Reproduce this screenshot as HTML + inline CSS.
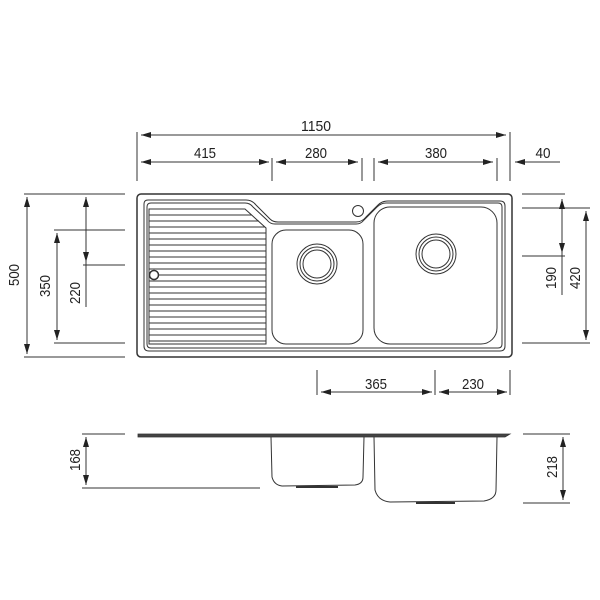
<!DOCTYPE html>
<html><head><meta charset="utf-8"><style>
html,body{margin:0;padding:0;background:#fff;width:600px;height:600px;overflow:hidden}
text{font-family:"Liberation Sans Narrow","Liberation Sans",sans-serif;font-size:15px;fill:#222}
</style></head><body>
<svg width="600" height="600" viewBox="0 0 600 600" xmlns="http://www.w3.org/2000/svg">
<defs>
<marker id="a" viewBox="0 0 10 6" refX="10" refY="3" markerWidth="10" markerHeight="6" orient="auto-start-reverse" markerUnits="userSpaceOnUse"><path d="M0,0L10,3L0,6z" fill="#222"/></marker>
</defs>
<g stroke="#333" stroke-width="1" fill="none">
<line x1="137" y1="132" x2="137" y2="181"/><line x1="272" y1="158" x2="272" y2="181"/>
<line x1="362" y1="158" x2="362" y2="181"/><line x1="374" y1="158" x2="374" y2="181"/>
<line x1="497" y1="158" x2="497" y2="181"/><line x1="510" y1="132" x2="510" y2="181"/>
<line x1="141" y1="135" x2="506" y2="135" marker-start="url(#a)" marker-end="url(#a)"/>
<line x1="141" y1="162" x2="269" y2="162" marker-start="url(#a)" marker-end="url(#a)"/>
<line x1="276" y1="162" x2="358" y2="162" marker-start="url(#a)" marker-end="url(#a)"/>
<line x1="378" y1="162" x2="493" y2="162" marker-start="url(#a)" marker-end="url(#a)"/>
<line x1="560" y1="162" x2="515" y2="162" marker-end="url(#a)"/>
<line x1="24" y1="194" x2="125" y2="194"/><line x1="54" y1="230" x2="125" y2="230"/>
<line x1="83" y1="265" x2="125" y2="265"/><line x1="54" y1="343" x2="125" y2="343"/>
<line x1="24" y1="357" x2="125" y2="357"/>
<line x1="27" y1="197" x2="27" y2="354" marker-start="url(#a)" marker-end="url(#a)"/>
<line x1="57" y1="233" x2="57" y2="340" marker-start="url(#a)" marker-end="url(#a)"/>
<line x1="86" y1="197" x2="86" y2="262" marker-start="url(#a)" marker-end="url(#a)"/>
<line x1="86" y1="262" x2="86" y2="307"/>
<line x1="522" y1="194" x2="565" y2="194"/><line x1="522" y1="208" x2="590" y2="208"/>
<line x1="522" y1="256" x2="565" y2="256"/><line x1="522" y1="343" x2="590" y2="343"/>
<line x1="562" y1="199" x2="562" y2="253" marker-start="url(#a)" marker-end="url(#a)"/>
<line x1="562" y1="253" x2="562" y2="295"/>
<line x1="586" y1="211" x2="586" y2="340" marker-start="url(#a)" marker-end="url(#a)"/>
<line x1="317" y1="370" x2="317" y2="395"/><line x1="435" y1="370" x2="435" y2="395"/><line x1="510" y1="370" x2="510" y2="395"/>
<line x1="321" y1="392" x2="432" y2="392" marker-start="url(#a)" marker-end="url(#a)"/>
<line x1="439" y1="392" x2="507" y2="392" marker-start="url(#a)" marker-end="url(#a)"/>
<rect x="137" y="194" width="375" height="163" rx="4" stroke-width="1.5"/>
<path d="M144,204 Q144,200 148,200 L246,200 Q252,200 256,205 L270,219 Q273,222 278,222 L356,222 Q362,222 366,217 L378,205 Q382,201 388,201 L500,201 Q505,201 505,206 L505,346 Q505,351 500,351 L149,351 Q144,351 144,346 Z"/>
<path d="M147,207 Q147,203 151,203 L245,203 Q250,203 253,207 L267,220 Q270,224 275,224 L356,224 Q361,224 364,220 L377,207 Q381,203 386,203 L498,203 Q502,203 502,207 L502,344 Q502,348 498,348 L151,348 Q147,348 147,344 Z"/>
<path d="M149,209 L245,209 L266,228 L266,344 L149,344 Z"/>
<g stroke-width="0.9">
<line x1="149" y1="215" x2="252" y2="215"/><line x1="149" y1="221" x2="259" y2="221"/>
<line x1="149" y1="227" x2="265" y2="227"/><line x1="149" y1="233" x2="266" y2="233"/>
<line x1="149" y1="239" x2="266" y2="239"/><line x1="149" y1="245" x2="266" y2="245"/>
<line x1="149" y1="251" x2="266" y2="251"/><line x1="149" y1="257" x2="266" y2="257"/>
<line x1="149" y1="263" x2="266" y2="263"/><line x1="149" y1="269" x2="266" y2="269"/>
<line x1="149" y1="275" x2="266" y2="275"/><line x1="149" y1="281" x2="266" y2="281"/>
<line x1="149" y1="287" x2="266" y2="287"/><line x1="149" y1="293" x2="266" y2="293"/>
<line x1="149" y1="299" x2="266" y2="299"/><line x1="149" y1="305" x2="266" y2="305"/>
<line x1="149" y1="311" x2="266" y2="311"/><line x1="149" y1="317" x2="266" y2="317"/>
<line x1="149" y1="323" x2="266" y2="323"/><line x1="149" y1="329" x2="266" y2="329"/>
<line x1="149" y1="335" x2="266" y2="335"/><line x1="149" y1="341" x2="266" y2="341"/>
</g>
<circle cx="154" cy="275" r="4.5" stroke-width="1.5" fill="#fff"/>
<rect x="272" y="230" width="91" height="114" rx="14"/>
<rect x="374" y="207" width="123" height="137" rx="16"/>
<circle cx="317" cy="264" r="20"/><circle cx="317" cy="264" r="17"/><circle cx="317" cy="264" r="14"/>
<circle cx="436" cy="254" r="20"/><circle cx="436" cy="254" r="17"/><circle cx="436" cy="254" r="14"/>
<circle cx="358" cy="211" r="5.5"/>
<line x1="82" y1="434" x2="125" y2="434"/><line x1="82" y1="488" x2="260" y2="488"/>
<line x1="523" y1="434" x2="570" y2="434"/><line x1="523" y1="503" x2="570" y2="503"/>
<line x1="86" y1="437" x2="86" y2="485" marker-start="url(#a)" marker-end="url(#a)"/>
<line x1="563" y1="437" x2="563" y2="500" marker-start="url(#a)" marker-end="url(#a)"/>
<path d="M138,434 L510,434 L505,437 L138,437 Z" fill="#444" stroke-width="0.8"/>
<path d="M271,437 L272,477 Q274,485 282,486 L355,485 Q363,484 363,477 L364,437"/>
<path d="M374,437 L375,490 Q378,501 390,502 L484,501 Q496,499 496,490 L497,437"/>
<line x1="296" y1="487" x2="338" y2="487" stroke-width="2"/>
<line x1="416" y1="503" x2="455" y2="503" stroke-width="2"/>
</g>
<g>
<text x="316" y="131" text-anchor="middle" textLength="30" lengthAdjust="spacingAndGlyphs">1150</text>
<text x="205" y="158" text-anchor="middle" textLength="22" lengthAdjust="spacingAndGlyphs">415</text>
<text x="316" y="158" text-anchor="middle" textLength="22" lengthAdjust="spacingAndGlyphs">280</text>
<text x="436" y="158" text-anchor="middle" textLength="22" lengthAdjust="spacingAndGlyphs">380</text>
<text x="543" y="158" text-anchor="middle" textLength="15" lengthAdjust="spacingAndGlyphs">40</text>
<text x="376" y="389" text-anchor="middle" textLength="22" lengthAdjust="spacingAndGlyphs">365</text>
<text x="473" y="389" text-anchor="middle" textLength="22" lengthAdjust="spacingAndGlyphs">230</text>
<text transform="translate(19,275) rotate(-90)" text-anchor="middle" textLength="22" lengthAdjust="spacingAndGlyphs">500</text>
<text transform="translate(50,286) rotate(-90)" text-anchor="middle" textLength="22" lengthAdjust="spacingAndGlyphs">350</text>
<text transform="translate(80,293) rotate(-90)" text-anchor="middle" textLength="22" lengthAdjust="spacingAndGlyphs">220</text>
<text transform="translate(556,278) rotate(-90)" text-anchor="middle" textLength="22" lengthAdjust="spacingAndGlyphs">190</text>
<text transform="translate(580,278) rotate(-90)" text-anchor="middle" textLength="22" lengthAdjust="spacingAndGlyphs">420</text>
<text transform="translate(80,460) rotate(-90)" text-anchor="middle" textLength="22" lengthAdjust="spacingAndGlyphs">168</text>
<text transform="translate(557,467) rotate(-90)" text-anchor="middle" textLength="22" lengthAdjust="spacingAndGlyphs">218</text>
</g>
</svg>
</body></html>
